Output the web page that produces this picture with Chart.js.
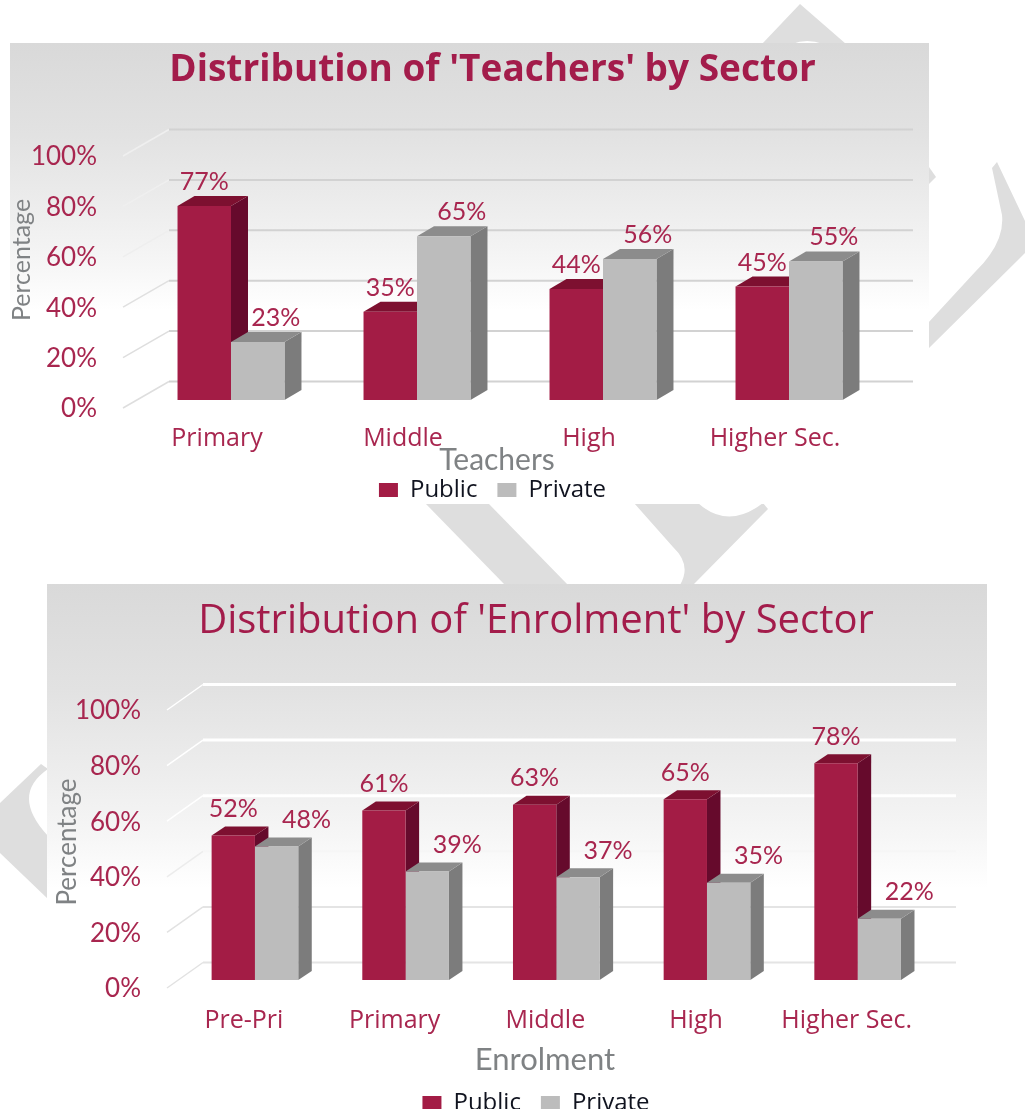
<!DOCTYPE html>
<html><head><meta charset="utf-8">
<script src="https://cdn.jsdelivr.net/npm/chart.js@4"></script>
<style>
html,body{margin:0;padding:0;background:#fff;width:1025px;height:1109px;overflow:hidden;position:relative}
.panel{position:absolute;background:linear-gradient(#d9d9d9 0%,#e2e2e2 20%,#ededed 36%,#f6f6f6 48%,#ffffff 58%,#ffffff 100%)}
#p1{left:10px;top:43px;width:919px;height:461px}
#p2{left:47px;top:584px;width:940px;height:525px}
canvas{position:absolute}
#wm{position:absolute;left:0;top:0}
</style></head><body>
<svg id="wm" width="1025" height="1109"><g fill="#dedede">
<path d="M762,44 L800,4 L846,44 L823,44 Q807,38 792,44 Z"/>
<path d="M929,167 L936,177 L929,184 Z"/>
<path d="M992,168 L997,162 L1025,221 L1025,253 L928,349 L928,323 L975,272 Q1005,243 1002,215 Z"/>
<path d="M425,503 L488,503 L568,585 L505,585 Z"/>
<path d="M634,503 L698,503 Q728,530 763,503 L768,509 L693,585 L680,585 Q692,565 673,547 Z"/>
<path d="M0,803 L41,764 L48,769 Q10,795 48,836 L48,899 L0,853 Z"/>
</g></svg>
<div class="panel" id="p1"></div>
<div class="panel" id="p2"></div>
<canvas id="c1" width="985" height="512" style="left:0;top:0"></canvas>
<canvas id="c2" width="978" height="550" style="left:47px;top:575px"></canvas>
<script>
const teacherCategories = ['Primary', 'Middle', 'High', 'Higher Sec.'];
const teacherPublic = [77, 35, 44, 45];
const teacherPrivate = [23, 65, 56, 55];

const enrolmentCategories = ['Pre-Pri', 'Primary', 'Middle', 'High', 'Higher Sec.'];
const enrolmentPublic = [52, 61, 63, 65, 78];
const enrolmentPrivate = [48, 39, 37, 35, 22];

const seriesNames = ['Public', 'Private'];
const crimson = '#a31c45', silver = '#bcbcbc';
const faces = [{side:'#660a2c', top:'#7d1030'}, {side:'#7c7c7c', top:'#8c8c8c'}];
const textRed = '#a8264f', FONT = 'Lato', WIDE = 'Open Sans';

const depthPlugin = {
  id: 'depth',
  beforeDatasetsDraw(chart, _a, o) {
    const ctx = chart.ctx, ys = chart.scales.y, a = chart.chartArea;
    ctx.save();
    ys.ticks.forEach((t, i) => {
      const p = ys.getPixelForValue(t.value);
      const g = o.gridStyles[i];
      ctx.strokeStyle = g.slant; ctx.lineWidth = 1.5;
      ctx.beginPath();
      ctx.moveTo(a.left + o.wallFrontX, p + o.wallFrontY);
      ctx.lineTo(a.left + o.wallBackX, p - o.wallBackY);
      ctx.stroke();
      ctx.strokeStyle = g.line; ctx.lineWidth = g.w;
      ctx.beginPath();
      ctx.moveTo(a.left + o.wallBackX, p - o.wallBackY);
      ctx.lineTo(o.gridRight, p - o.wallBackY);
      ctx.stroke();
    });
    const n = chart.data.labels.length;
    for (let j = 0; j < n; j++) {
      for (let d = 0; d < chart.data.datasets.length; d++) {
        const b = chart.getDatasetMeta(d).data[j];
        const l = b.x - b.width / 2, r = b.x + b.width / 2;
        ctx.fillStyle = faces[d].side;
        ctx.beginPath();
        ctx.moveTo(r, b.y); ctx.lineTo(r + o.dx, b.y - o.dy);
        ctx.lineTo(r + o.dx, b.base - o.dy); ctx.lineTo(r, b.base);
        ctx.closePath(); ctx.fill();
        ctx.fillStyle = faces[d].top;
        ctx.beginPath();
        ctx.moveTo(l, b.y); ctx.lineTo(l + o.dx, b.y - o.dy);
        ctx.lineTo(r + o.dx, b.y - o.dy); ctx.lineTo(r, b.y);
        ctx.closePath(); ctx.fill();
      }
    }
    ctx.restore();
  },
  afterDatasetsDraw(chart, _a, o) {
    const ctx = chart.ctx;
    ctx.save();
    ctx.font = o.valueFont + ' ' + FONT;
    ctx.fillStyle = textRed;
    ctx.textAlign = 'center'; ctx.textBaseline = 'middle';
    chart.data.datasets.forEach((ds, d) => {
      chart.getDatasetMeta(d).data.forEach((b, j) => {
        ctx.fillText(ds.data[j] + '%', b.x + (d ? o.privateShift : 0), b.y - o.rise);
      });
    });
    ctx.fillStyle = '#7f8284';
    ctx.font = o.xAxisFont + ' ' + FONT;
    ctx.fillText(o.xTitle, o.xTitleX, o.xTitleY);
    ctx.font = o.yAxisFont + ' ' + FONT;
    ctx.translate(o.yTitleX, o.yTitleY);
    ctx.rotate(-Math.PI / 2);
    ctx.fillText(o.yTitle, 0, 0);
    ctx.restore();
  }
};

function build(id, cats, pub, pri, c) {
  return new Chart(document.getElementById(id), {
    type: 'bar',
    plugins: [depthPlugin],
    data: { labels: cats, datasets: [
      { label: seriesNames[0], data: pub, backgroundColor: crimson, borderWidth: 0 },
      { label: seriesNames[1], data: pri, backgroundColor: silver, borderWidth: 0 }
    ]},
    options: {
      responsive: false, animation: false,
      datasets: { bar: { categoryPercentage: 0.575, barPercentage: 1 } },
      layout: { padding: 0 },
      scales: {
        x: { grid: {display:false}, border: {display:false},
             afterFit: s => { s.height = c.xHeight; },
             ticks: { color: textRed, font: {family: WIDE, size: c.catSize}, padding: c.catPad,
                      labelOffset: c.catShift, maxRotation: 0, autoSkip: false } },
        y: { min: 0, max: 100, grid: {display:false}, border: {display:false},
             afterFit: s => { s.width = c.yWidth; },
             ticks: { stepSize: 20, color: textRed, font: {family: FONT, size: c.tickSize},
                      padding: c.tickPad, labelOffset: 9, callback: v => v + '%' } },
        gutter: { position: 'right', display: true, grid: {display:false}, border: {display:false},
             ticks: {display:false}, afterFit: s => { s.width = c.rightGap; } }
      },
      plugins: {
        tooltip: {enabled:false},
        title: { display: true, text: c.title, color: '#a31c4b',
                 font: {family: WIDE, size: c.titleSize, weight: c.titleWeight, lineHeight: c.titleLine},
                 padding: {top: c.titleTop, bottom: c.titleBottom} },
        legend: { position: 'bottom',
                  labels: { boxWidth: 19, boxHeight: 14, padding: 20, color: '#10131f',
                            font: {family: WIDE, size: 24} } },
        depth: c.depth
      }
    }
  });
}

build('c1', teacherCategories, teacherPublic, teacherPrivate, {
  title: "Distribution of 'Teachers' by Sector", titleSize: 37, titleLine: 1.2, titleWeight: 'bold', titleTop: 48, titleBottom: 55.6,
  xHeight: 58, yWidth: 138, rightGap: 103, catSize: 25, catPad: 16, catShift: -14, tickSize: 26, tickPad: 33,
  depth: { dx: 17, dy: 10, rise: 24, privateShift: 18, wallFrontX: -15, wallFrontY: 8, wallBackX: 31, wallBackY: 18.5, gridRight: 913,
           valueFont: '25px', xAxisFont: '30px', yAxisFont: '25px', xTitle: 'Teachers', xTitleX: 497, xTitleY: 460, yTitle: 'Percentage', yTitleX: 22, yTitleY: 260,
           gridStyles: [
             {line:'#d2d2d2', slant:'#dedede', w:2}, {line:'#d2d2d2', slant:'#dedede', w:2},
             {line:'#d2d2d2', slant:'#e0e0e0', w:2}, {line:'#d2d2d2', slant:'#eeeeee', w:2},
             {line:'#d2d2d2', slant:'#efefef', w:2}, {line:'#d2d2d2', slant:'#efefef', w:2}] }
});

build('c2', enrolmentCategories, enrolmentPublic, enrolmentPrivate, {
  title: "Distribution of 'Enrolment' by Sector", titleSize: 40, titleLine: 1.2, titleWeight: 'normal', titleTop: 22.5, titleBottom: 56.5,
  xHeight: 91, yWidth: 132.6, rightGap: 92, catSize: 25, catPad: 18, catShift: -11, tickSize: 26, tickPad: 30.6,
  depth: { dx: 13.5, dy: 9, rise: 26.5, privateShift: 30, wallFrontX: -12.6, wallFrontY: 8, wallBackX: 23.4, wallBackY: 17.5, gridRight: 909,
           valueFont: '25px', xAxisFont: '31px', yAxisFont: '26px', xTitle: 'Enrolment', xTitleX: 498, xTitleY: 485, yTitle: 'Percentage', yTitleX: 21, yTitleY: 267,
           gridStyles: [
             {line:'#e4e4e4', slant:'#e2e2e2', w:2}, {line:'#e4e4e4', slant:'#e2e2e2', w:2},
             {line:'#f6f6f6', slant:'#ececec', w:2}, {line:'#ffffff', slant:'#ffffff', w:3},
             {line:'#ffffff', slant:'#ffffff', w:3}, {line:'#ffffff', slant:'#ffffff', w:3}] }
});
</script>
</body></html>
